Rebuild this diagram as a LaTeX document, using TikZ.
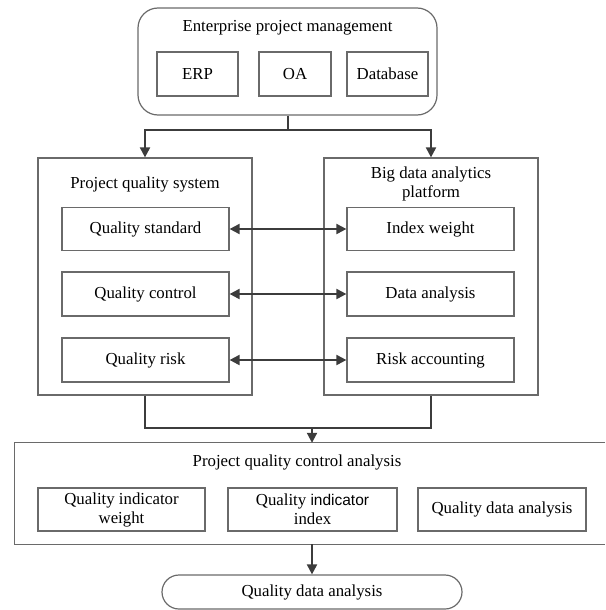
\documentclass[tikz,border=0pt]{standalone}
\usepackage{fontspec}
\setmainfont{Liberation Serif}
\newfontfamily\sansind{Liberation Sans}
\usetikzlibrary{arrows.meta}
\definecolor{boxgray}{HTML}{6A6A6A}
\definecolor{linegray}{HTML}{3C3C3C}
\begin{document}
\begin{tikzpicture}[x=1pt,y=-1pt,
  font=\fontsize{16.8}{19}\selectfont,
  box/.style={draw=boxgray, line width=1.2pt, rectangle, inner sep=0pt, align=center},
  conn/.style={draw=linegray, line width=2pt},
  arr/.style={conn, -{Triangle[length=10pt,width=10pt]}},
  darr/.style={conn, {Triangle[length=10pt,width=10pt]}-{Triangle[length=10pt,width=10pt]}},
  lbl/.style={inner sep=0pt, align=center}]
\useasboundingbox (0,0) rectangle (605,610);

% top group
\node[box, rounded corners=20pt, minimum width=299pt, minimum height=107pt] (top) at (287.5,61.5) {};
\node[lbl] (toptitle) at (287.5,28) {Enterprise project management};
\node[box, minimum width=81pt, minimum height=44pt] (erp) at (197.5,74) {ERP};
\node[box, minimum width=72pt, minimum height=44pt] (oa) at (295,74) {OA};
\node[box, minimum width=81pt, minimum height=44pt] (db) at (387.5,74) {Database};

% left group
\node[box, minimum width=214pt, minimum height=237pt] (left) at (145,276.5) {};
\node[lbl] (lefttitle) at (145,184) {Project quality system};
\node[box, minimum width=167pt, minimum height=43pt] (qs) at (145.5,229) {Quality standard};
\node[box, minimum width=167pt, minimum height=44pt] (qc) at (145.5,294) {Quality control};
\node[box, minimum width=167pt, minimum height=44pt] (qr) at (145.5,360) {Quality risk};

% right group
\node[box, minimum width=214pt, minimum height=237pt] (right) at (431,276.5) {};
\node[lbl] (righttitle) at (431,184) {Big data analytics\\platform};
\node[box, minimum width=167pt, minimum height=43pt] (iw) at (430.5,229) {Index weight};
\node[box, minimum width=167pt, minimum height=44pt] (da) at (430.5,294) {Data analysis};
\node[box, minimum width=167pt, minimum height=44pt] (ra) at (430.5,360) {Risk accounting};

% analysis group (open on the right)
\node[inner sep=0pt, minimum width=590pt, minimum height=101pt] (pqca) at (310,493.5) {};
\draw[draw=boxgray, line width=1.2pt] (pqca.north east) -- (pqca.north west) -- (pqca.south west) -- (pqca.south east);
\node[lbl] (pqcatitle) at (297,462) {Project quality control analysis};
\node[box, minimum width=167pt, minimum height=43pt] (qiw) at (121.5,509.5) {Quality indicator\\weight};
\node[box, minimum width=169pt, minimum height=43pt] (qii) at (312.5,509.5) {Quality {\sansind\fontsize{15.5}{19}\selectfont indicator}\\index};
\node[box, minimum width=168pt, minimum height=43pt] (qda) at (502,509.5) {Quality data analysis};

% final terminal
\node[box, rounded corners=17pt, minimum width=300pt, minimum height=34pt] (final) at (312,592) {Quality data analysis};

% connectors
\coordinate (split) at (288,130);
\draw[conn] (split |- top.south) -- (split);
\draw[arr] (split) -| (left.north);
\draw[arr] (split) -| (right.north);

\draw[darr] (qs.east) -- (iw.west);
\draw[darr] (qc.east) -- (da.west);
\draw[darr] (qr.east) -- (ra.west);

\coordinate (join) at (312,428);
\draw[conn] (left.south) |- (join) -| (right.south);
\draw[arr] (join) -- (join |- pqca.north);
\draw[arr] (final.north |- pqca.south) -- (final.north);
\end{tikzpicture}
\end{document}
